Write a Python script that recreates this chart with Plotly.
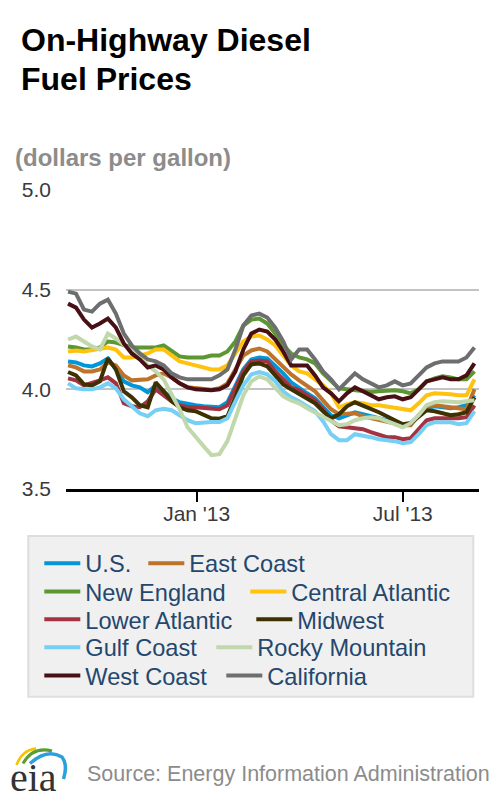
import pandas as pd
import plotly.graph_objects as go

# ---------------- data ----------------
dates = pd.date_range("2012-09-10", periods=52, freq="7D")

us = [4.14, 4.135, 4.12, 4.115, 4.13, 4.155, 4.10, 4.04, 4.02, 4.01, 3.985, 4.02, 3.99,
      3.955, 3.935, 3.925, 3.92, 3.915, 3.91, 3.91, 3.935, 4.02, 4.10, 4.15, 4.16, 4.155,
      4.12, 4.08, 4.035, 4.005, 3.98, 3.955, 3.91, 3.87, 3.855, 3.87, 3.885, 3.875, 3.865,
      3.855, 3.845, 3.835, 3.825, 3.83, 3.87, 3.905, 3.915, 3.91, 3.905, 3.91, 3.92, 3.97]
east_coast = [4.12, 4.11, 4.09, 4.09, 4.10, 4.135, 4.12, 4.07, 4.045, 4.045, 4.05, 4.07, 4.08,
              4.06, 4.03, 4.01, 4.005, 4.00, 3.998, 4.005, 4.03, 4.10, 4.17, 4.195, 4.205, 4.19,
              4.15, 4.11, 4.075, 4.045, 4.02, 3.99, 3.945, 3.90, 3.875, 3.875, 3.88, 3.865, 3.855,
              3.85, 3.84, 3.83, 3.82, 3.82, 3.87, 3.91, 3.92, 3.915, 3.91, 3.905, 3.90, 4.00]
new_england = [4.215, 4.21, 4.20, 4.20, 4.21, 4.24, 4.235, 4.22, 4.21, 4.21, 4.21, 4.21, 4.22,
               4.19, 4.165, 4.16, 4.16, 4.16, 4.17, 4.17, 4.19, 4.24, 4.32, 4.35, 4.355, 4.33,
               4.28, 4.22, 4.18, 4.16, 4.15, 4.13, 4.08, 4.04, 4.005, 4.00, 3.995, 3.99, 3.987,
               3.99, 3.993, 3.995, 3.99, 3.98, 4.00, 4.04, 4.055, 4.065, 4.06, 4.05, 4.05, 4.09]
central_atlantic = [4.19, 4.195, 4.19, 4.195, 4.20, 4.21, 4.20, 4.16, 4.16, 4.17, 4.18, 4.20, 4.20,
                    4.17, 4.14, 4.13, 4.12, 4.11, 4.10, 4.10, 4.12, 4.18, 4.24, 4.265, 4.27, 4.25,
                    4.22, 4.17, 4.12, 4.09, 4.08, 4.05, 4.02, 3.98, 3.91, 3.925, 3.935, 3.93, 3.92,
                    3.92, 3.915, 3.905, 3.90, 3.895, 3.93, 3.97, 3.98, 3.98, 3.975, 3.97, 3.97, 4.05]
lower_atlantic = [4.055, 4.045, 4.02, 4.03, 4.045, 4.06, 4.03, 3.93, 3.915, 3.91, 3.94, 4.00, 3.97,
                  3.94, 3.92, 3.91, 3.91, 3.905, 3.90, 3.90, 3.92, 4.00, 4.09, 4.14, 4.145, 4.14,
                  4.09, 4.05, 4.01, 3.995, 3.97, 3.945, 3.90, 3.845, 3.815, 3.81, 3.81, 3.80, 3.785,
                  3.77, 3.76, 3.76, 3.75, 3.755, 3.80, 3.845, 3.855, 3.855, 3.85, 3.855, 3.86, 3.92]
midwest = [4.087, 4.07, 4.025, 4.02, 4.04, 4.155, 4.10, 3.99, 3.96, 3.92, 3.91, 4.035, 3.99,
           3.94, 3.91, 3.895, 3.89, 3.875, 3.855, 3.853, 3.865, 3.96, 4.07, 4.125, 4.13, 4.115,
           4.07, 4.025, 4.00, 3.975, 3.955, 3.93, 3.89, 3.855, 3.875, 3.915, 3.935, 3.92, 3.905,
           3.885, 3.865, 3.845, 3.825, 3.83, 3.86, 3.895, 3.89, 3.88, 3.87, 3.875, 3.885, 3.96]
gulf_coast = [4.03, 4.005, 4.00, 4.00, 4.01, 4.03, 4.005, 3.95, 3.915, 3.88, 3.865, 3.895, 3.903,
              3.895, 3.87, 3.845, 3.83, 3.835, 3.836, 3.836, 3.855, 3.94, 4.02, 4.075, 4.087, 4.075,
              4.04, 3.99, 3.96, 3.94, 3.915, 3.89, 3.84, 3.775, 3.745, 3.745, 3.775, 3.77, 3.76,
              3.75, 3.745, 3.74, 3.73, 3.735, 3.775, 3.82, 3.835, 3.835, 3.835, 3.825, 3.83, 3.89]
rocky_mountain = [4.25, 4.265, 4.24, 4.215, 4.20, 4.28, 4.255, 4.225, 4.19, 4.16, 4.12, 4.09, 4.05,
                  3.98, 3.90, 3.81, 3.76, 3.715, 3.67, 3.675, 3.74, 3.85, 3.97, 4.04, 4.065, 4.05,
                  4.01, 3.965, 3.945, 3.93, 3.905, 3.885, 3.86, 3.84, 3.82, 3.825, 3.845, 3.855, 3.86,
                  3.855, 3.84, 3.83, 3.81, 3.83, 3.87, 3.92, 3.935, 3.94, 3.935, 3.935, 3.94, 3.945]
west_coast = [4.43, 4.41, 4.35, 4.31, 4.33, 4.355, 4.31, 4.23, 4.18, 4.15, 4.11, 4.12, 4.10,
              4.06, 4.03, 4.01, 4.00, 3.995, 3.995, 4.00, 4.02, 4.09, 4.20, 4.28, 4.30, 4.29,
              4.25, 4.19, 4.12, 4.12, 4.12, 4.07, 4.01, 3.98, 3.94, 3.98, 4.01, 3.99, 3.97,
              3.95, 3.96, 3.965, 3.95, 3.96, 4.00, 4.04, 4.05, 4.06, 4.05, 4.05, 4.07, 4.13]
california = [4.49, 4.48, 4.40, 4.39, 4.43, 4.45, 4.38, 4.28, 4.22, 4.18, 4.15, 4.14, 4.12,
              4.08, 4.06, 4.05, 4.05, 4.05, 4.05, 4.07, 4.10, 4.20, 4.32, 4.37, 4.38, 4.36,
              4.31, 4.24, 4.15, 4.20, 4.20, 4.15, 4.09, 4.05, 4.00, 4.04, 4.08, 4.05, 4.03,
              4.01, 4.02, 4.04, 4.02, 4.03, 4.07, 4.11, 4.13, 4.14, 4.14, 4.14, 4.16, 4.21]

series_names = ["U.S.", "East Coast", "New England", "Central Atlantic", "Lower Atlantic",
                "Midwest", "Gulf Coast", "Rocky Mountain", "West Coast", "California"]
series_values = [us, east_coast, new_england, central_atlantic, lower_atlantic,
                 midwest, gulf_coast, rocky_mountain, west_coast, california]
series_colors = ["#0096d7", "#bd732a", "#5d9732", "#ffc20e", "#a33340",
                 "#3d3102", "#76cff5", "#c0d8ab", "#481015", "#6d6e70"]

y_ticks = [3.5, 4.0, 4.5, 5.0]
y_tick_labels = ["3.5", "4.0", "4.5", "5.0"]
x_ticks = ["2013-01-01", "2013-07-01"]
x_tick_labels = ["Jan '13", "Jul '13"]

# ---------------- layout geometry ----------------
W, H = 500, 800
ML, MR, MT, MB = 66, 21, 190, 311
PW, PH = W - ML - MR, H - MT - MB
FONT = "Liberation Sans, Arial, Helvetica, sans-serif"


def xp(px):
    return (px - ML) / PW


def yp(py):
    return (H - MB - py) / PH


legend_names = ["legend", "legend2", "legend3", "legend4", "legend5"]
# width reserved for the first entry of each legend row (px)
first_entry_width = [53, 155, 161, 121, 131]

fig = go.Figure()
for i, (name, vals, col) in enumerate(zip(series_names, series_values, series_colors)):
    kw = {}
    if i % 2 == 0:
        kw["legendwidth"] = first_entry_width[i // 2]
    fig.add_trace(go.Scatter(
        x=dates, y=vals, name=name, mode="lines",
        line=dict(color=col, width=4),
        legend=legend_names[i // 2],
        hoverinfo="skip",
        **kw,
    ))

row_centers = [563.3, 591.7, 619.5, 647.3, 675.7]
legend_cfg = {}
for k, ln in enumerate(legend_names):
    legend_cfg[ln] = dict(
        orientation="h", x=xp(39.3), xanchor="left", y=yp(row_centers[k]), yanchor="middle",
        bgcolor="rgba(0,0,0,0)", borderwidth=0, itemwidth=36,
        font=dict(family=FONT, size=23.6, color="#24476d"),
        itemclick=False, itemdoubleclick=False,
    )

shapes = [
    dict(type="rect", xref="paper", yref="paper", x0=xp(28.3), x1=xp(473.3),
         y0=yp(696.7), y1=yp(536), fillcolor="#f0f0f0",
         line=dict(color="#dedede", width=2), layer="below"),
]


def path(pts):
    s = ""
    for cmd, coords in pts:
        s += cmd + " " + " ".join(f"{xp(a):.5f},{yp(b):.5f}" for a, b in coords) + " "
    return s.strip()


shapes.append(dict(type="path", xref="paper", yref="paper",
                   path=path([("M", [(16.5, 765)]), ("Q", [(22, 750), (36, 748.5)])]),
                   line=dict(color="#f5c400", width=2.5)))
shapes.append(dict(type="path", xref="paper", yref="paper",
                   path=path([("M", [(23, 763.5)]), ("Q", [(33, 746), (52, 751)])]),
                   line=dict(color="#5a9e32", width=3)))
shapes.append(dict(type="path", xref="paper", yref="paper",
                   path=path([("M", [(30, 763.5)]), ("Q", [(47, 748), (62, 757)]),
                              ("Q", [(68, 765), (63.5, 779)])]),
                   line=dict(color="#2aa0dc", width=3.5)))

annotations = [
    dict(text="<b>On-Highway Diesel</b>", x=xp(19), y=yp(40), xref="paper", yref="paper",
         xanchor="left", yanchor="middle", showarrow=False,
         font=dict(family=FONT, size=32, color="#000000")),
    dict(text="<b>Fuel Prices</b>", x=xp(19), y=yp(79), xref="paper", yref="paper",
         xanchor="left", yanchor="middle", showarrow=False,
         font=dict(family=FONT, size=32, color="#000000")),
    dict(text="<b>(dollars per gallon)</b>", x=xp(13), y=yp(157), xref="paper", yref="paper",
         xanchor="left", yanchor="middle", showarrow=False,
         font=dict(family=FONT, size=24, color="#8c8c8c")),
    dict(text="Source: Energy Information Administration", x=xp(85), y=yp(774),
         xref="paper", yref="paper", xanchor="left", yanchor="middle", showarrow=False,
         font=dict(family=FONT, size=21.5, color="#8c8c8c")),
    dict(text="eia", x=xp(33), y=yp(777), xref="paper", yref="paper",
         xanchor="center", yanchor="middle", showarrow=False,
         font=dict(family="Liberation Serif, Times New Roman, serif", size=40, color="#333333")),
]

fig.update_layout(
    width=W, height=H,
    margin=dict(l=ML, r=MR, t=MT, b=MB, pad=0),
    paper_bgcolor="#ffffff", plot_bgcolor="#ffffff",
    font=dict(family=FONT, size=21, color="#3a3a3a"),
    showlegend=True,
    shapes=shapes,
    annotations=annotations,
    hovermode=False,
    **legend_cfg,
)
fig.update_xaxes(
    type="date", range=["2012-09-08 05:00", "2013-09-06"],
    tickvals=x_ticks, ticktext=x_tick_labels,
    ticks="outside", ticklen=10, tickwidth=2, tickcolor="#000000",
    showline=True, linecolor="#000000", linewidth=3,
    showgrid=False, zeroline=False,
    ticklabelstandoff=-6,
    tickfont=dict(family=FONT, size=21, color="#3a3a3a"),
)
fig.update_yaxes(
    range=[3.5, 5.0], tickvals=y_ticks, ticktext=y_tick_labels,
    showgrid=True, gridcolor="#c3c3c3", gridwidth=2,
    zeroline=False, showline=False, ticks="",
    ticklabelstandoff=14,
    tickfont=dict(family=FONT, size=21, color="#3a3a3a"),
)

fig.write_html("out.html", config={"displayModeBar": False, "staticPlot": True},
               post_script="document.body.style.margin='0px';")
